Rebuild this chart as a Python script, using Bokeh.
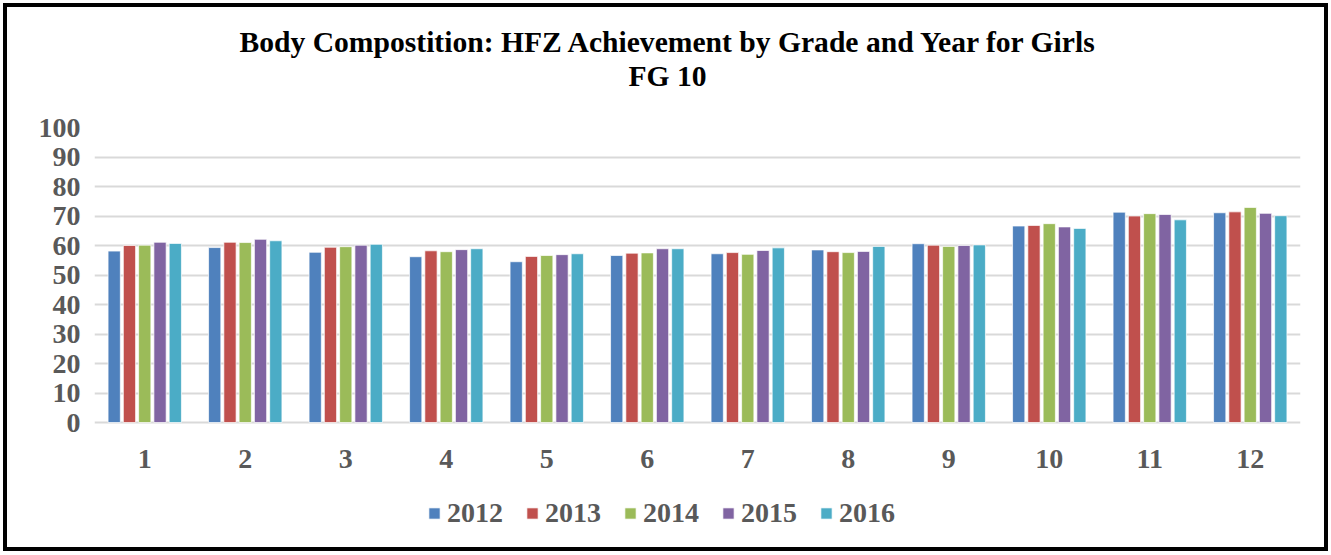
from bokeh.plotting import figure
from bokeh.models import FactorRange, FixedTicker, Legend, LegendItem, Title, ColumnDataSource, Range1d
from bokeh.transform import dodge
from bokeh.embed import file_html
from bokeh.resources import INLINE

grades = [str(g) for g in range(1, 13)]
years = ["2012", "2013", "2014", "2015", "2016"]
v2012 = [58.1, 59.3, 57.7, 56.2, 54.5, 56.6, 57.2, 58.5, 60.6, 66.6, 71.3, 71.1]
v2013 = [60.0, 61.1, 59.4, 58.2, 56.3, 57.4, 57.6, 57.9, 60.1, 66.8, 70.0, 71.4]
v2014 = [60.1, 61.0, 59.6, 57.9, 56.6, 57.5, 57.0, 57.6, 59.7, 67.4, 70.8, 72.9]
v2015 = [61.1, 62.1, 60.1, 58.6, 56.9, 58.9, 58.3, 58.0, 60.0, 66.3, 70.5, 70.9]
v2016 = [60.7, 61.6, 60.4, 58.9, 57.2, 58.9, 59.2, 59.7, 60.2, 65.8, 68.7, 70.1]
y_ticks = list(range(0, 101, 10))
colors = ["#4F81BD", "#C0504D", "#9BBB59", "#8064A2", "#4BACC6"]

src = ColumnDataSource(dict(grade=grades, base=[0] * len(grades),
                            y2012=v2012, y2013=v2013, y2014=v2014,
                            y2015=v2015, y2016=v2016))

FONT = "Liberation Serif"
GRAY = "#595959"

# layout: plot area extends below the value axis so the legend can sit inside it
PLOT_TOP, ZERO_PX, PLOT_BOTTOM = 127, 422, 547
y_start = -100 * (PLOT_BOTTOM - ZERO_PX) / (ZERO_PX - PLOT_TOP)

p = figure(width=1325, height=548, x_range=FactorRange(factors=grades, range_padding=0),
           y_range=Range1d(y_start, 100), output_backend="svg", toolbar_location=None,
           min_border_left=87, min_border_right=32, min_border_top=120, min_border_bottom=8)
p.styles = {"border": "4px solid black", "margin": "3px 0 0 3px"}
p.outline_line_color = None
p.background_fill_color = "white"
p.border_fill_color = "white"

offsets = [-0.304, -0.152, 0.0, 0.152, 0.304]
renderers = []
for yr, off, col in zip(years, offsets, colors):
    r = p.vbar(x=dodge("grade", off, range=p.x_range), top="y" + yr, bottom="base", width=0.122,
               source=src, fill_color=col, line_color="white", line_width=1, line_alpha=0.7)
    renderers.append(r)

# category (grade) labels under the bars
p.text(x="grade", y="base", text="grade", source=src, y_offset=36,
       text_font=FONT, text_font_style="bold", text_font_size="28px",
       text_color=GRAY, text_align="center", text_baseline="middle")

legend = Legend(items=[LegendItem(label=yr, renderers=[r]) for yr, r in zip(years, renderers)],
                orientation="horizontal", location=(333, 18), border_line_color=None,
                background_fill_alpha=0, padding=0, margin=0, spacing=22,
                glyph_width=14, glyph_height=14, label_standoff=6,
                label_text_font=FONT, label_text_font_style="bold",
                label_text_font_size="28px", label_text_color=GRAY)
p.add_layout(legend, "center")

# spacer between plot area and the two-line title
p.add_layout(Title(text=" ", text_font_size="1px", standoff=33), "above")
p.add_layout(Title(text="FG 10", align="left", offset=534, text_font=FONT, text_font_style="bold",
                   text_font_size="29.6px", text_color="black", standoff=0), "above")
p.add_layout(Title(text="Body Compostition: HFZ Achievement by Grade and Year for Girls",
                   align="left", offset=145, text_font=FONT, text_font_style="bold",
                   text_font_size="29.6px", text_color="black", standoff=0), "above")

p.xaxis.visible = False
p.xgrid.grid_line_color = None
p.ygrid.grid_line_color = "#D9D9D9"
p.ygrid.grid_line_width = 2
p.yaxis.ticker = FixedTicker(ticks=y_ticks)

ax = p.yaxis[0]
ax.axis_line_color = None
ax.major_tick_line_color = None
ax.minor_tick_line_color = None
ax.major_tick_out = 0
ax.major_tick_in = 0
ax.major_label_text_font = FONT
ax.major_label_text_font_style = "bold"
ax.major_label_text_font_size = "28px"
ax.major_label_text_color = GRAY
ax.major_label_standoff = 14

open("out.html", "w").write(file_html(p, INLINE))
